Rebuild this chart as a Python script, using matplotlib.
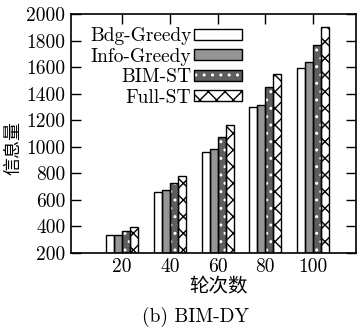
import matplotlib
matplotlib.use("Agg")
import matplotlib.pyplot as plt
import numpy as np

# -----------------------------
# Data
# -----------------------------
rounds = ["20", "40", "60", "80", "100"]
bdg_greedy = [334, 662, 963, 1297, 1591]
info_greedy = [336, 672, 981, 1312, 1636]
bim_st = [368, 730, 1074, 1448, 1764]
full_st = [396, 780, 1164, 1546, 1905]
y_ticks = [200, 400, 600, 800, 1000, 1200, 1400, 1600, 1800, 2000]

SERIF = ["cmr10", "DejaVu Serif"]
CJK = ["Noto Sans CJK SC", "DejaVu Sans"]
FS = 14

plt.rcParams["hatch.linewidth"] = 1.0

fig = plt.figure(figsize=(3.61, 3.28), dpi=100)
ax = fig.add_axes([71 / 361, 1 - 253 / 328, 285 / 361, 239 / 328])

x = np.arange(len(rounds))
w = 0.168

# (name, values, facecolor, hatch, hatch colour)
series = [
    ("Bdg-Greedy", bdg_greedy, "white", None, None),
    ("Info-Greedy", info_greedy, "#959595", None, None),
    ("BIM-ST", bim_st, "#5e5e5e", "..", "white"),
    ("Full-ST", full_st, "white", "xx", "black"),
]

handles = []
for i, (name, vals, fc, hatch, hc) in enumerate(series):
    pos = x + (i - 1.5) * w
    heights = np.array(vals) - 200
    if hatch:
        b1 = ax.bar(pos, heights, w, bottom=200, color=fc, edgecolor=hc,
                    hatch=hatch, linewidth=0, zorder=2)
    else:
        b1 = ax.bar(pos, heights, w, bottom=200, color=fc, linewidth=0,
                    zorder=2)
    b2 = ax.bar(pos, heights, w, bottom=200, fill=False, edgecolor="black",
                linewidth=1.0, zorder=3)
    handles.append((b1[0], b2[0]))

ax.set_xlim(-1.07, 4.9)
ax.set_ylim(200, 2000)
ax.set_xticks(x)
ax.set_xticklabels(rounds)
ax.set_yticks(y_ticks)
ax.tick_params(direction="in", length=7, width=1.0, top=True, right=True,
               labelsize=FS, pad=4)
for lab in ax.get_xticklabels() + ax.get_yticklabels():
    lab.set_family(SERIF)
for s in ax.spines.values():
    s.set_linewidth(1.2)

ax.legend(handles, [s[0] for s in series], loc="upper right",
          bbox_to_anchor=(0.6, 0.945), frameon=False, markerfirst=False,
          prop={"family": SERIF, "size": FS}, handlelength=2.45,
          handleheight=0.5, handletextpad=0.15, labelspacing=0.13,
          borderpad=0, borderaxespad=0)

fig.text(219 / 361, 1 - 287 / 328, "轮次数", family=CJK, fontsize=14,
         ha="center", va="center")
fig.text(13 / 361, 1 - 148 / 328, "信息量", family=CJK, fontsize=13,
         ha="center", va="center", rotation=90)
fig.text(196 / 361, 1 - 317 / 328, "(b) BIM-DY", family=SERIF, fontsize=FS,
         ha="center", va="center")

fig.savefig("out.png", dpi=100)
